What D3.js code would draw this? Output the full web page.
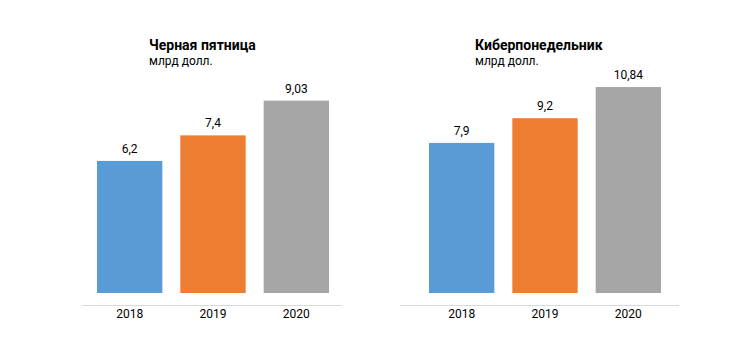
<!DOCTYPE html>
<html>
<head>
<meta charset="utf-8">
<script src="https://cdn.jsdelivr.net/npm/d3@7"></script>
<style>
  body { margin: 0; background: #fff; }
  text { font-family: Roboto, "Noto Sans", sans-serif; fill: #000; }
</style>
</head>
<body>
<div id="chart"></div>
<script>
// данные
const years = ["2018", "2019", "2020"];
const blackFriday = [6.2, 7.4, 9.03];
const cyberMonday = [7.9, 9.2, 10.84];
const titles = ["Черная пятница", "Киберпонедельник"];
const unitLabel = "млрд долл.";
const colors = ["#5B9BD5", "#ED7D31", "#A5A5A5"];

const width = 750, height = 362;
const svg = d3.select("#chart").append("svg")
  .attr("width", width)
  .attr("height", height);

const fmt = v => String(v).replace(".", ",");

// две панели (у каждой своя шкала)
const panels = [
  { title: titles[0], values: blackFriday, axis: [82, 342], bars: [97, 329], yMax: 10, yTop: 80, titleX: 149 },
  { title: titles[1], values: cyberMonday, axis: [400, 679], bars: [429, 661], yMax: 12, yTop: 65, titleX: 475 }
];

panels.forEach(p => {
  const g = svg.append("g");

  const x = d3.scaleBand()
    .domain(years)
    .range(p.bars)
    .paddingInner(0.216)
    .paddingOuter(0);

  const y = d3.scaleLinear()
    .domain([0, p.yMax])
    .range([293, p.yTop]);

  // линия оси
  g.append("line")
    .attr("x1", p.axis[0]).attr("x2", p.axis[1])
    .attr("y1", 305.5).attr("y2", 305.5)
    .attr("stroke", "#d9d9d9");

  g.selectAll("rect")
    .data(p.values)
    .enter().append("rect")
    .attr("x", (d, i) => x(years[i]))
    .attr("y", d => y(d))
    .attr("width", x.bandwidth())
    .attr("height", d => y(0) - y(d))
    .attr("fill", (d, i) => colors[i]);

  g.selectAll(".val")
    .data(p.values)
    .enter().append("text")
    .attr("class", "val")
    .attr("x", (d, i) => x(years[i]) + x.bandwidth() / 2)
    .attr("y", d => y(d) - 8)
    .attr("text-anchor", "middle")
    .style("font-size", "12px")
    .text(d => fmt(d));

  g.selectAll(".tick")
    .data(years)
    .enter().append("text")
    .attr("class", "tick")
    .attr("x", d => x(d) + x.bandwidth() / 2)
    .attr("y", 318)
    .attr("text-anchor", "middle")
    .style("font-size", "12px")
    .text(d => d);

  g.append("text")
    .attr("x", p.titleX).attr("y", 50)
    .style("font-size", "14px")
    .style("font-weight", "bold")
    .text(p.title);

  g.append("text")
    .attr("x", p.titleX).attr("y", 64.5)
    .style("font-size", "12px")
    .text(unitLabel);
});
</script>
</body>
</html>
